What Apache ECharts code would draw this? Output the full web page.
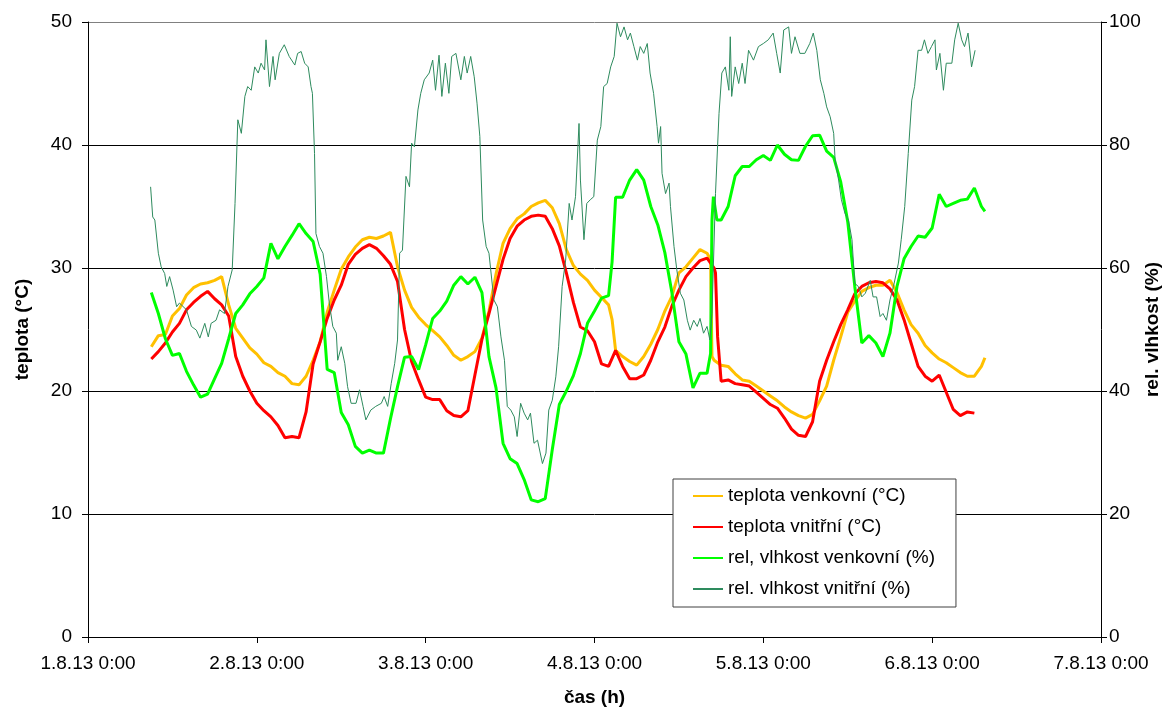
<!DOCTYPE html>
<html>
<head>
<meta charset="utf-8">
<script src="https://cdn.jsdelivr.net/npm/echarts@6/dist/echarts.min.js"></script>
<style>
html,body{margin:0;padding:0;background:#fff;overflow:hidden;}
#chart{position:absolute;left:0;top:0;width:1163px;height:708px;}
</style>
</head>
<body>
<div id="chart"></div>
<script>
// time in hours since 1.8.13 0:00
const tempOutsideHours = [9,10,11,12,13,14,15,16,17,18,19,20,21,22,23,24,25,26,27,28,29,30,31,32,33,
  34,35,36,37,38,39,40,41,42,43,44,45,46,47,48,49,50,51,52,53,54,55,56,57,
  58,59,60,61,62,63,64,65,66,67,68,69,70,71,72,73,74,74.5,75,76,77,78,79,80,81,
  82,83,84,85,86,87,88,88.5,88.7,89,90,91,92,93,94,95,96,97,98,99,100,101,102,103,104,105,
  106,107,108,109,110,111,112,113,114,115,116,117,118,119,120,121,122,123,124,125,126,127,127.5];
const tempOutside = [23.6,24.5,24.6,26.1,26.7,27.8,28.4,28.7,28.8,29.0,29.3,27.0,25.1,24.3,23.5,23.0,22.3,22.0,21.5,21.2,20.6,20.5,21.2,22.5,24.0,
  26.4,28.2,29.9,30.9,31.7,32.3,32.5,32.4,32.6,32.9,30.1,28.2,26.8,26.0,25.4,24.9,24.4,23.7,22.9,22.5,22.8,23.2,24.3,26.5,
  29.5,32.0,33.2,34.0,34.4,35.0,35.3,35.5,34.9,33.6,31.5,30.2,29.5,29.0,28.2,27.6,27.0,25.8,23.3,22.8,22.4,22.1,22.8,23.8,25.0,
  26.5,27.7,29.6,30.1,30.8,31.5,31.2,30.7,22.8,22.5,22.1,22.0,21.4,20.9,20.8,20.4,20.0,19.6,19.2,18.7,18.3,18.0,17.8,18.1,19.2,20.4,
  22.5,24.4,26.4,27.3,28.1,28.4,28.6,28.6,29.0,28.0,26.6,25.4,24.7,23.7,23.1,22.6,22.3,21.9,21.5,21.2,21.2,22.0,22.7];

const tempInsideHours = [9,10,11,12,13,14,15,16,17,18,19,20,21,22,23,24,25,26,27,28,29,30,31,32,33,
  34,35,36,37,38,39,40,41,42,43,44,45,46,47,48,49,50,51,52,53,54,55,56,57,
  58,59,60,61,62,63,64,65,66,67,68,69,70,71,72,73,74,75,76,77,78,79,80,81,
  82,83,84,85,86,87,88,89,89.2,89.5,90,91,92,93,94,95,96,97,98,99,100,101,102,103,104,105,
  106,107,108,109,110,111,112,113,114,115,116,117,118,119,120,121,122,123,124,125,126];
const tempInside = [22.6,23.2,23.9,24.8,25.5,26.6,27.2,27.7,28.1,27.5,27.0,26.1,22.8,21.2,20.0,19.0,18.4,17.9,17.2,16.2,16.3,16.2,18.3,22.2,24.0,
  25.9,27.4,28.6,30.3,31.1,31.6,31.9,31.6,31.0,30.3,28.9,25.0,22.4,20.9,19.5,19.3,19.3,18.4,18.0,17.9,18.4,21.3,24.2,26.3,
  28.5,30.7,32.4,33.4,33.9,34.2,34.3,34.2,33.2,31.8,29.6,27.2,25.2,24.9,24.0,22.2,22.0,23.3,22.0,21.0,21.0,21.3,22.5,24.0,
  25.2,26.9,28.2,29.3,30.0,30.6,30.8,30.0,29.6,24.4,20.8,20.9,20.6,20.5,20.4,19.9,19.4,18.9,18.6,17.8,16.9,16.4,16.3,17.5,20.8,22.5,
  24.0,25.4,26.6,27.9,28.5,28.8,28.9,28.8,28.3,27.4,25.8,23.9,22.0,21.2,20.8,21.3,19.9,18.5,18.0,18.3,18.2];

const humidityOutsideHours = [9,10,11,12,13,14,15,16,17,18,19,20,21,22,23,24,25,26,27,28,29,30,31,32,33,
  34,35,36,37,38,39,40,41,42,43,44,45,46,47,48,49,50,51,52,53,54,55,56,57,
  58,59,60,61,62,63,64,65,66,67,68,69,70,71,72,73,74,74.5,75,76,77,78,79,80,81,
  82,83,84,85,86,87,88,88.5,88.7,88.9,89.4,90,91,92,93,94,95,96,97,98,99,100,101,102,103,104,105,
  106,107,108,109,110,111,112,113,114,115,116,117,118,119,120,121,122,123,124,125,126,127,127.5];
const humidityOutside = [56.0,52.6,48.5,45.8,46.1,43.2,41.0,39.0,39.5,42.0,44.5,48.5,52.6,54.0,55.8,57.0,58.4,64.0,61.5,63.5,65.3,67.2,65.6,64.3,59.0,
  43.5,43.0,36.5,34.5,31.0,29.9,30.4,29.9,29.9,35.5,40.7,45.5,45.6,43.5,47.5,51.8,53.0,54.6,57.2,58.6,57.4,58.5,56.0,45.6,
  40.5,31.5,29.0,28.2,25.6,22.3,22.0,22.5,30.5,37.8,40.0,42.5,46.1,51.0,53.0,55.1,55.5,61.0,71.5,71.5,74.3,76.0,74.3,70.0,67.0,
  62.5,56.0,48.0,46.0,40.5,42.9,42.9,46.1,67.8,71.6,67.8,67.8,70.0,75.0,76.5,76.5,77.6,78.3,77.5,80.0,78.5,77.6,77.5,79.8,81.5,81.6,79.0,
  78.0,74.0,67.5,57.0,47.8,49.0,47.8,45.6,49.4,57.0,61.5,63.5,65.2,65.0,66.5,72.0,70.0,70.5,71.0,71.2,73.0,70.0,69.2];

const humidityInsideHours = [8.9,9.2,9.5,10,10.4,10.9,11.2,11.6,12.1,12.6,13,14,14.7,15.4,15.9,16.6,17.1,17.5,18.2,18.7,19.4,19.9,20.5,20.9,
  21.3,21.8,22.3,22.7,23.2,23.7,24.2,24.6,25.1,25.3,25.8,26.3,26.6,27.2,27.9,28.6,29.4,29.8,30.3,30.8,31.3,31.7,31.9,
  32.2,32.4,32.9,33.4,33.9,34.3,34.8,35.3,35.5,36,36.5,36.9,37.4,38.1,38.6,39.1,39.5,40.2,40.9,41.7,42.1,42.6,43.1,43.6,44,
  44.3,44.7,45.2,45.7,46,46.4,46.9,47.3,47.8,48.5,49,49.4,49.9,50.3,50.8,51.3,51.7,52.3,53,53.5,53.9,54.4,54.9,55.3,55.7,
  56.1,56.6,57,57.7,58.2,58.7,59.2,59.6,60.1,60.6,61,61.5,62,62.5,62.9,63.4,63.9,64.6,65.1,65.5,66,66.5,66.9,67.4,67.9,
  68.4,68.8,69.3,69.8,70,70.5,70.9,71.4,71.9,72.4,72.9,73.3,73.8,74.3,74.8,75.2,75.7,76.2,76.7,77.1,77.6,78.1,78.5,79,79.5,79.9,
  80.4,80.9,81.1,81.4,81.6,82.1,82.6,82.8,83.3,83.7,84.2,84.7,85.2,85.6,86.1,86.6,87,87.5,88,88.4,88.7,
  89.2,89.7,90.1,90.6,91.1,91.3,91.5,92,92.5,93,93.4,93.9,94.6,95.3,96,96.7,97.4,97.9,98.4,98.9,99.6,100,100.5,101.2,101.9,102.6,103.1,103.6,
  104.1,104.6,105,105.5,106,106.2,106.7,107.1,107.6,108.1,108.6,109,109.5,110,110.5,111.2,111.6,112.1,112.6,113,113.5,114,114.5,115.2,115.6,
  116.1,116.6,117.1,117.5,118,118.5,118.9,119.4,119.9,120.4,120.6,121.1,121.6,122,122.8,123.2,123.7,124.2,124.6,125.1,125.6,126.1];
const humidityInside = [73.2,68.3,67.8,62.4,60.2,59.1,57.0,58.6,56.4,53.7,54.3,53.2,50.5,49.9,48.6,51.0,48.8,51.0,51.5,53.2,52.6,57.0,59.7,70.5,
  84.1,81.9,87.9,89.5,88.9,92.7,91.7,93.3,92.2,97.1,89.5,94.4,90.6,94.9,96.3,94.4,93.0,94.9,95.2,93.3,92.7,89.5,88.4,
  78.6,65.6,63.5,62.4,58.6,54.3,50.5,49.4,45.0,47.2,44.5,40.7,38.0,38.0,40.2,37.5,35.3,36.9,37.5,38.0,39.1,37.5,41.2,44.5,48.3,
  62.4,62.9,74.9,73.2,80.3,79.7,85.7,88.4,90.6,91.7,93.8,88.9,94.6,87.9,93.3,88.4,94.4,94.9,90.6,94.4,91.7,94.4,91.1,86.8,81.4,
  67.8,63.5,62.4,54.8,53.7,48.8,45.0,37.5,36.9,35.8,32.6,38.0,36.4,35.3,36.4,31.5,32.0,28.2,29.9,36.9,38.5,42.3,47.2,57.0,61.3,
  70.5,67.8,71.6,83.5,74.3,64.6,70.5,71.1,71.6,80.8,83.0,89.5,90.0,92.7,94.4,99.8,97.6,99.2,97.1,98.2,96.0,93.8,96.0,94.9,96.5,91.7,
  88.4,83.0,80.3,83.0,75.4,72.1,73.8,70.0,63.5,59.7,55.9,54.8,51.5,49.9,51.5,50.5,51.8,49.4,50.5,48.3,52.6,
  72.1,85.1,91.7,92.7,88.9,97.6,87.9,92.7,90.0,93.3,90.0,95.4,93.8,96.0,96.5,97.1,98.2,94.9,91.7,98.7,99.2,94.9,97.6,94.9,94.9,96.5,98.2,95.4,
  90.6,88.4,86.2,84.6,81.9,77.6,74.3,71.1,68.9,67.8,64.6,57.5,57.0,55.3,55.9,58.0,55.3,55.3,52.1,52.6,51.5,54.8,57.0,60.8,64.6,
  70.0,78.6,87.3,89.5,95.4,95.4,97.1,94.9,96.0,97.1,92.2,94.9,88.9,93.3,93.3,97.1,99.8,97.1,96.0,98.2,92.7,95.4];

const xTickLabels = ['1.8.13 0:00','2.8.13 0:00','3.8.13 0:00','4.8.13 0:00','5.8.13 0:00','6.8.13 0:00','7.8.13 0:00'];
const seriesNames = ['teplota venkovní (°C)','teplota vnitřní (°C)','rel, vlhkost venkovní (%)','rel. vlhkost vnitřní (%)'];

function pairs(xs, vals){ return xs.map((h,i)=>[h, vals[i]]); }

const FONT = '"Liberation Sans", Arial, sans-serif';
const chart = echarts.init(document.getElementById('chart'), null, {renderer:'canvas', width:1163, height:708});
chart.setOption({
  animation:false,
  backgroundColor:'#ffffff',
  textStyle:{fontFamily:FONT, color:'#000'},
  grid:{left:88, right:62, top:22, bottom:71, containLabel:false, outerBoundsMode:'none'},
  legend:{
    orient:'vertical', left:673, top:479,
    backgroundColor:'#fff', borderColor:'#404040', borderWidth:1, borderRadius:0,
    padding:[7,21,8,19],
    itemWidth:30, itemHeight:14, itemGap:11,
    itemStyle:{opacity:0},
    textStyle:{fontFamily:FONT, fontSize:19, color:'#000', lineHeight:20},
    data:seriesNames
  },
  xAxis:{
    type:'value', min:0, max:144, interval:24,
    name:'čas (h)', nameLocation:'middle', nameGap:51, nameMoveOverlap:false,
    nameTextStyle:{fontFamily:FONT, fontSize:19, fontWeight:'bold', color:'#000'},
    axisLine:{show:true, onZero:false, lineStyle:{color:'#000', width:1}},
    axisTick:{show:true, inside:false, length:6, lineStyle:{color:'#000'}},
    axisLabel:{show:true, margin:17, fontSize:19, color:'#000', fontFamily:FONT,
      showMinLabel:true, showMaxLabel:true,
      formatter:function(v){ return xTickLabels[Math.round(v/24)]; }},
    splitLine:{show:false}
  },
  yAxis:[{
    type:'value', min:0, max:50, interval:10, position:'left',
    name:'teplota (°C)', nameLocation:'middle', nameGap:56, nameMoveOverlap:false,
    nameTextStyle:{fontFamily:FONT, fontSize:19, fontWeight:'bold', color:'#000'},
    axisLine:{show:true, lineStyle:{color:'#000', width:1}},
    axisTick:{show:true, inside:false, length:6, lineStyle:{color:'#000'}},
    axisLabel:{margin:16, fontSize:19, color:'#000', fontFamily:FONT},
    splitLine:{show:true, lineStyle:{color:['#000','#000','#000','#000','#000','#808080'], width:1}}
  },{
    type:'value', min:0, max:100, interval:20, position:'right',
    name:'rel. vlhkost (%)', nameLocation:'middle', nameGap:42, nameMoveOverlap:false,
    nameTextStyle:{fontFamily:FONT, fontSize:19, fontWeight:'bold', color:'#000'},
    axisLine:{show:true, lineStyle:{color:'#000', width:1}},
    axisTick:{show:true, inside:false, length:6, lineStyle:{color:'#000'}},
    axisLabel:{margin:8, fontSize:19, color:'#000', fontFamily:FONT},
    splitLine:{show:false}
  }],
  series:[
    {name:seriesNames[0], type:'line', yAxisIndex:0, data:pairs(tempOutsideHours, tempOutside), showSymbol:false,
     lineStyle:{color:'#FFC000', width:3}, itemStyle:{color:'#FFC000'}},
    {name:seriesNames[1], type:'line', yAxisIndex:0, data:pairs(tempInsideHours, tempInside), showSymbol:false,
     lineStyle:{color:'#FF0000', width:3}, itemStyle:{color:'#FF0000'}},
    {name:seriesNames[2], type:'line', yAxisIndex:1, data:pairs(humidityOutsideHours, humidityOutside), showSymbol:false,
     lineStyle:{color:'#00FF00', width:3}, itemStyle:{color:'#00FF00'}},
    {name:seriesNames[3], type:'line', yAxisIndex:1, data:pairs(humidityInsideHours, humidityInside), showSymbol:false,
     lineStyle:{color:'#2E8B5E', width:1}, itemStyle:{color:'#2E8B5E'}}
  ]
});
</script>
</body>
</html>
